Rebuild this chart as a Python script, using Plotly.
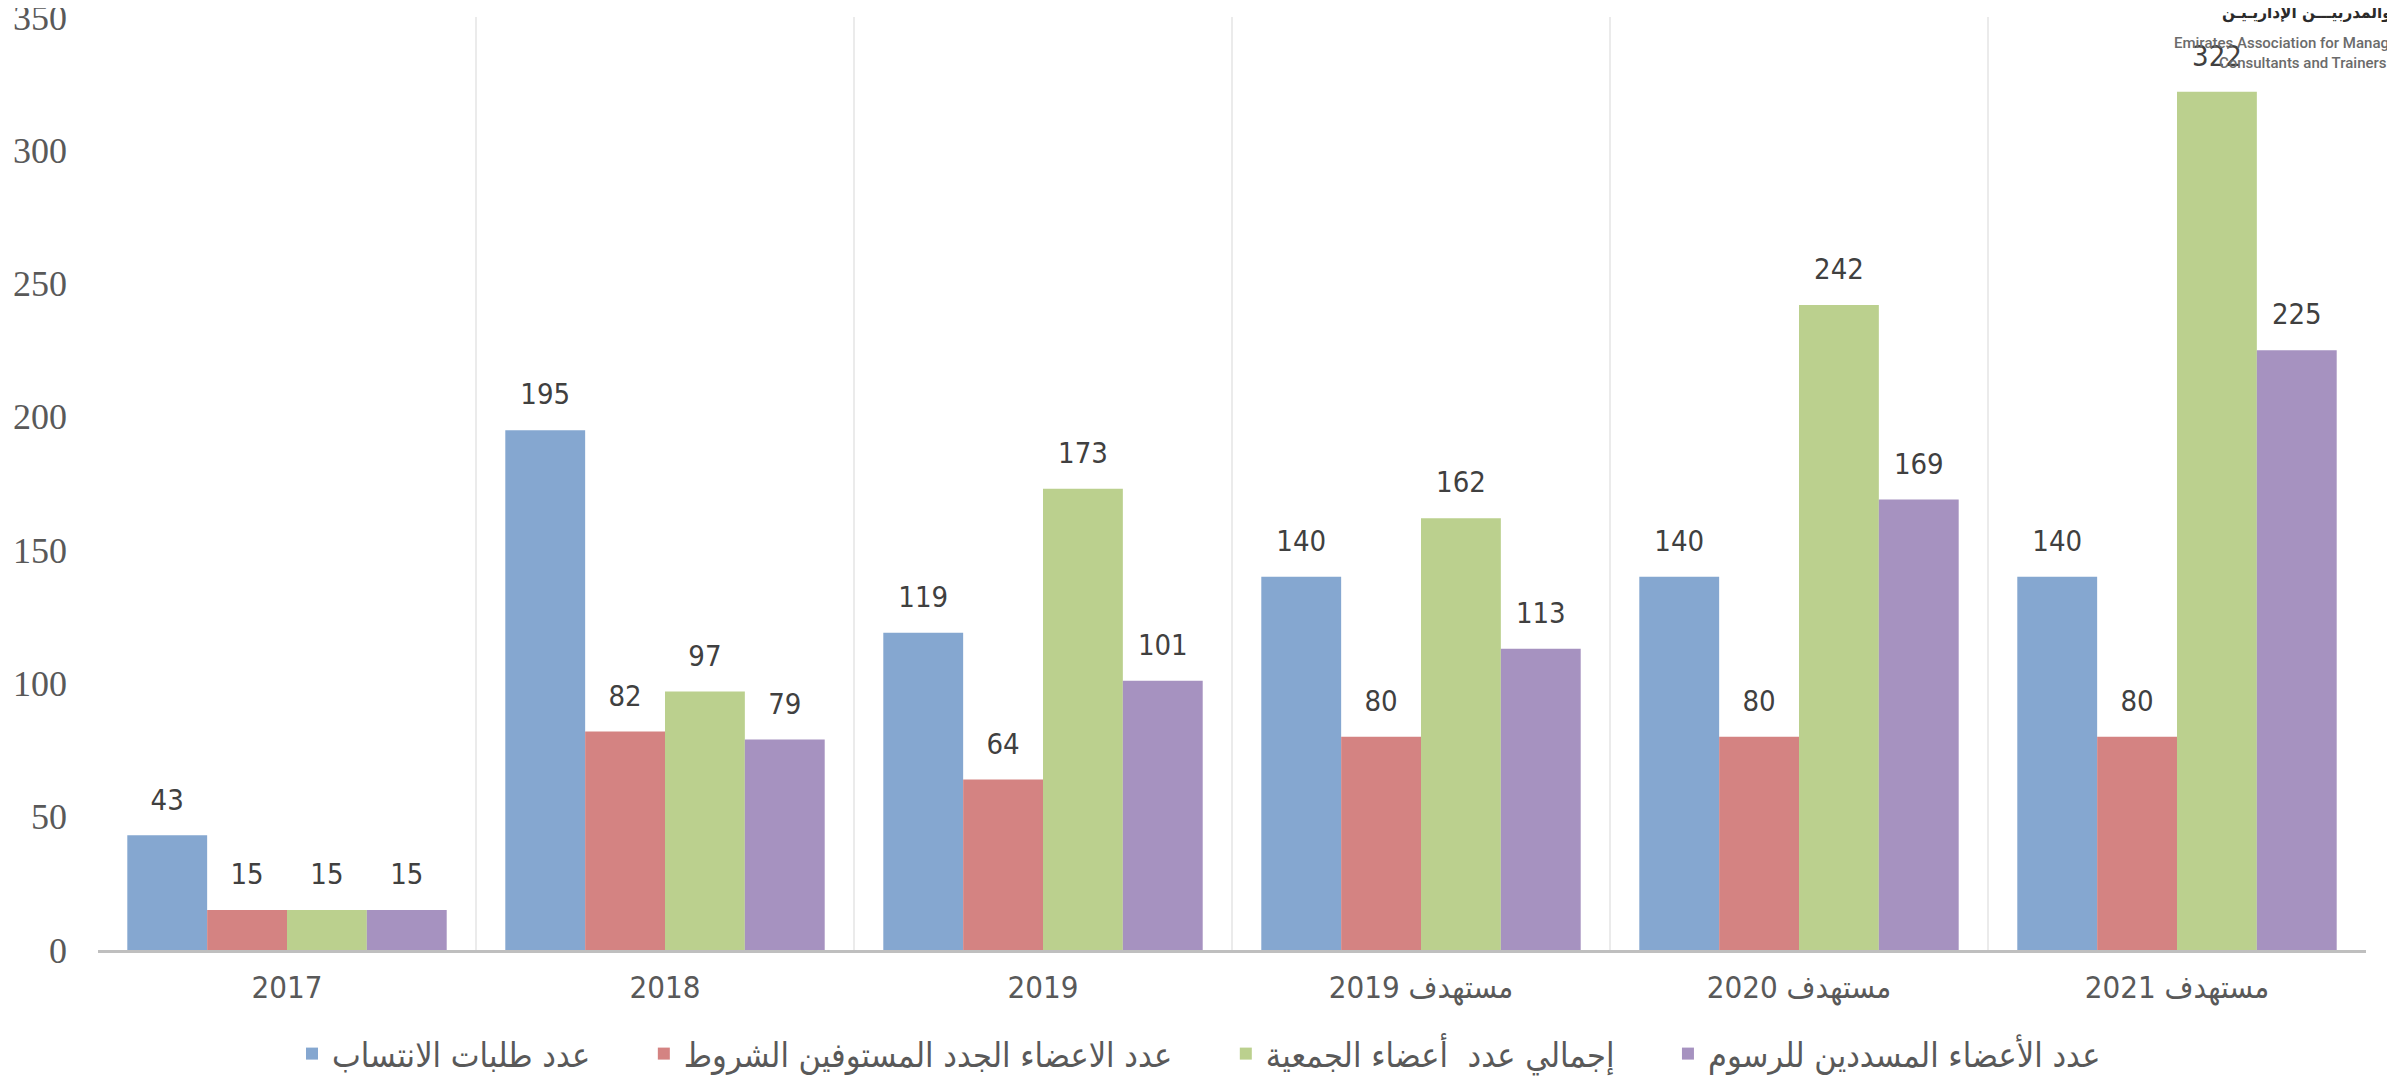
import plotly.graph_objects as go

categories = ["2017", "2018", "2019", "مستهدف 2019", "مستهدف 2020", "مستهدف 2021"]
series_names = [
    "عدد طلبات الانتساب",
    "عدد الاعضاء الجدد المستوفين الشروط",
    "إجمالي عدد  أعضاء الجمعية",
    "عدد الأعضاء المسددين للرسوم",
]
applications = [43, 195, 119, 140, 140, 140]
new_members = [15, 82, 64, 80, 80, 80]
total_members = [15, 97, 173, 162, 242, 322]
paid_members = [15, 79, 101, 113, 169, 225]
y_ticks = [0, 50, 100, 150, 200, 250, 300, 350]

series_values = [applications, new_members, total_members, paid_members]
colors = ["#85A7D0", "#D48382", "#BBD08E", "#A692C0"]
PAD = "\u00A0" * 5

fig = go.Figure()
for name, vals, col in zip(series_names, series_values, colors):
    fig.add_trace(go.Bar(
        x=categories, y=vals, name=name + PAD,
        marker=dict(color=col, line=dict(width=0)),
        hoverinfo="x+y",
    ))
for name, vals in zip(series_names, series_values):
    fig.add_trace(go.Scatter(
        x=categories, y=vals, mode="markers+text",
        text=[str(v) for v in vals], textposition="top center",
        textfont=dict(family="DejaVu Sans Condensed, sans-serif", size=29, color="#404040"),
        marker=dict(size=28, opacity=0),
        showlegend=False, hoverinfo="skip", cliponaxis=False,
    ))

fig.update_layout(
    width=2387, height=1068,
    margin=dict(l=90, r=29, t=9, b=126, autoexpand=False),
    paper_bgcolor="white", plot_bgcolor="white",
    barmode="group", bargap=0.155, bargroupgap=0,
    scattermode="group", scattergap=0.155,
    showlegend=True,
    legend=dict(
        orientation="h", xref="container", x=0.509, xanchor="center",
        yref="container", y=0.0206, yanchor="middle",
        font=dict(family="DejaVu Sans Condensed, sans-serif", size=34, color="#595959"),
        traceorder="normal", itemclick=False, itemdoubleclick=False,
    ),
    xaxis=dict(
        type="category", range=[-0.5, 5.5],
        showline=True, linecolor="#BFBFBF", linewidth=3,
        showgrid=True, gridcolor="#EBEBEB", gridwidth=1.5, tickson="boundaries",
        ticks="", ticklabelstandoff=8,
        tickfont=dict(family="DejaVu Sans Condensed, sans-serif", size=31, color="#595959"),
    ),
    yaxis=dict(
        range=[0, 350], tickvals=y_ticks, showgrid=False, zeroline=False,
        showline=False, ticks="", ticklabelstandoff=30, ticklabeloverflow="allow",
        tickfont=dict(family="Liberation Serif, serif", size=36, color="#595959"),
    ),
    annotations=[
        dict(xref="paper", yref="paper", x=0.9742, y=1.0043, xanchor="center", yanchor="middle",
             text="<b>والمدربيـــن الإداريـيـن</b>", showarrow=False,
             font=dict(family="DejaVu Sans Condensed, sans-serif", size=17, color="#2b2b2b")),
        dict(xref="paper", yref="paper", x=0.9722, y=0.984, xanchor="center", yanchor="top",
             text="Emirates Association for Management<br>Consultants and Trainers", showarrow=False,
             align="center",
             font=dict(family="Roboto, Liberation Sans, sans-serif", size=15, color="#6b6b6b", weight=500)),
    ],
)

fig.write_html("out.html")
